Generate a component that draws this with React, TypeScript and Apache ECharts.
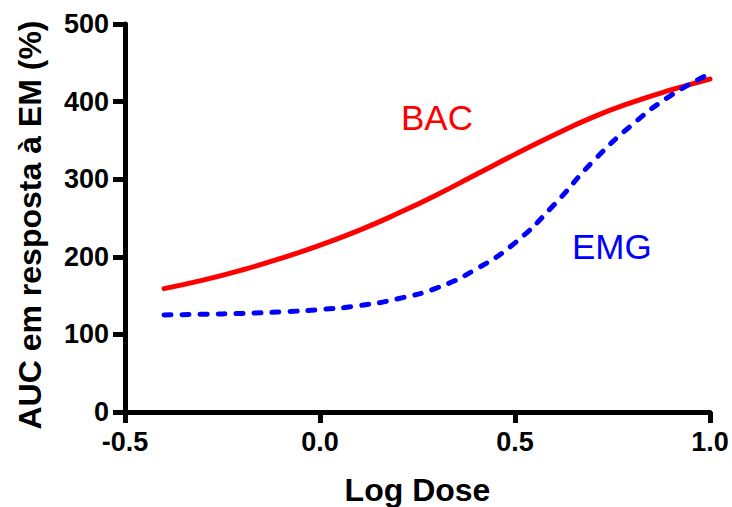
import React, { useEffect, useRef } from "react";
import * as echarts from "echarts";

const logDose = [-0.4, -0.3, -0.2, -0.1, 0.0, 0.1, 0.2, 0.3, 0.4, 0.5, 0.6, 0.7, 0.8, 0.9, 1.0];
const bacValues = [159, 170, 183, 198, 215, 234, 256, 280, 306, 332, 357, 380, 399, 415, 429];
const emgValues = [125, 126, 127, 129, 132, 137, 146, 160, 184, 218, 267, 323, 370, 408, 436];
const yTicks = [0, 100, 200, 300, 400, 500];
const xTicks = [-0.5, 0.0, 0.5, 1.0];
const yTitle = "AUC em resposta à EM (%)";
const xTitle = "Log Dose";

const FONT = "'Liberation Sans', Arial, Helvetica, sans-serif";

export default function App() {
  const ref = useRef<HTMLDivElement>(null);
  useEffect(() => {
    document.body.style.margin = "0";
    const chart = echarts.init(ref.current!, null, { renderer: "svg" });
    const bac = logDose.map((x, i) => [x, bacValues[i]]);
    const emg = logDose.map((x, i) => [x, emgValues[i]]);
    chart.setOption({
      animation: false,
      backgroundColor: "#ffffff",
      grid: { left: 125, right: 22, top: 24, bottom: 95, containLabel: false, outerBoundsMode: "none" },
      xAxis: {
        type: "value",
        min: xTicks[0],
        max: xTicks[xTicks.length - 1],
        interval: 0.5,
        name: xTitle,
        nameLocation: "middle",
        nameGap: 62,
        nameTextStyle: { fontFamily: FONT, fontWeight: "bold", fontSize: 32, color: "#000" },
        axisLine: { onZero: false, lineStyle: { color: "#000", width: 5 } },
        axisTick: { show: true, length: 11, lineStyle: { color: "#000", width: 5 } },
        axisLabel: {
          margin: 16,
          fontFamily: FONT,
          fontWeight: "bold",
          fontSize: 27,
          color: "#000",
          formatter: (v: number) => v.toFixed(1),
        },
        splitLine: { show: false },
      },
      yAxis: {
        type: "value",
        min: yTicks[0],
        max: yTicks[yTicks.length - 1],
        interval: 100,
        axisLine: { show: true, onZero: false, lineStyle: { color: "#000", width: 5 } },
        axisTick: { show: true, length: 12, lineStyle: { color: "#000", width: 5 } },
        axisLabel: { margin: 16, fontFamily: FONT, fontWeight: "bold", fontSize: 27, color: "#000" },
        splitLine: { show: false },
      },
      series: [
        {
          name: "BAC",
          type: "line",
          data: bac,
          smooth: 0.5,
          showSymbol: false,
          lineStyle: { color: "#ff0000", width: 5, cap: "round" },
        },
        {
          name: "EMG",
          type: "line",
          data: emg,
          smooth: 0.5,
          showSymbol: false,
          lineStyle: { color: "#0000ff", width: 5, type: [7, 11], cap: "round" },
        },
      ],
      graphic: [
        {
          type: "text",
          x: 30,
          y: 225,
          rotation: Math.PI / 2,
          style: {
            text: yTitle,
            fill: "#000",
            fontFamily: FONT,
            fontWeight: "bold",
            fontSize: 32,
            align: "center",
            verticalAlign: "middle",
          },
        },
        {
          type: "text",
          left: 401,
          top: 100,
          style: { text: "BAC", fill: "#ff0000", fontFamily: FONT, fontSize: 35 },
        },
        {
          type: "text",
          left: 572,
          top: 229,
          style: { text: "EMG", fill: "#0000ff", fontFamily: FONT, fontSize: 35 },
        },
      ],
    });
    return () => chart.dispose();
  }, []);
  return <div ref={ref} style={{ width: 732, height: 507 }} />;
}
